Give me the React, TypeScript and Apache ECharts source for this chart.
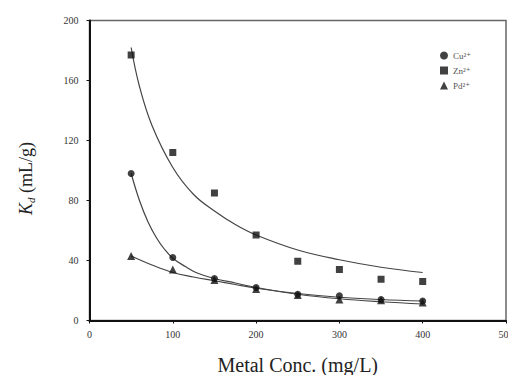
import React, { useEffect, useRef } from "react";
import * as echarts from "echarts";

const concentrations = [50, 100, 150, 200, 250, 300, 350, 400];
const cuValues = [98, 42, 28, 22, 17.5, 16.5, 14, 13];
const znValues = [177, 112, 85, 57, 39.5, 34, 27.5, 26];
const pdValues = [43, 34, 27, 21, 17, 14, 13.5, 12];

const cuFitX = [50, 60, 70, 80, 90, 100, 115, 130, 150, 175, 200, 250, 300, 350, 400];
const cuFit = [98, 80, 66, 55.5, 47.5, 41.5, 36, 31.5, 28, 25, 22, 17.5, 14.5, 12.5, 11];
const znFitX = [50, 60, 75, 100, 125, 150, 175, 200, 250, 300, 350, 400];
const znFit = [182, 156, 130, 102, 84, 73, 64, 57, 47, 40.5, 35.5, 32];
const pdFitX = [50, 75, 100, 125, 150, 175, 200, 250, 300, 350, 400];
const pdFit = [43, 37, 32, 29, 26.5, 24, 21.5, 18, 15.5, 14, 13];

const xTicks = [0, 100, 200, 300, 400, 500];
const yTicks = [0, 40, 80, 120, 160, 200];
const seriesNames = ["Cu²⁺", "Zn²⁺", "Pd²⁺"];

const serif = "'Liberation Serif', 'DejaVu Serif', serif";

export default function App() {
  const ref = useRef<HTMLDivElement>(null);
  useEffect(() => {
    if (!ref.current) return;
    const chart = echarts.init(ref.current, null, { renderer: "svg" });
    const pair = (xs: number[], ys: number[]) => xs.map((x, i) => [x, ys[i]]);
    const scatterStyle = (name: string, symbol: string, size: number, ys: number[]) => ({
      name,
      type: "scatter",
      symbol,
      symbolSize: size,
      itemStyle: { color: "#111" },
      data: pair(concentrations, ys),
      z: 5,
    });
    const fitStyle = (xs: number[], ys: number[]) => ({
      type: "line",
      smooth: 0.4,
      showSymbol: false,
      silent: true,
      lineStyle: { color: "#444", width: 1.2 },
      data: pair(xs, ys),
      z: 3,
    });
    chart.setOption({
      animation: false,
      backgroundColor: "#fff",
      grid: {
        left: 89.5,
        right: 2,
        top: 20.5,
        bottom: 54.5,
        show: true,
        borderColor: "#666",
        borderWidth: 1.5,
        containLabel: false,
        outerBoundsMode: "none",
      },
      legend: {
        data: seriesNames,
        orient: "vertical",
        left: 435,
        top: 46,
        itemWidth: 8,
        itemHeight: 8,
        itemGap: 6,
        textStyle: { fontFamily: serif, fontSize: 9, color: "#555" },
      },
      xAxis: {
        type: "value",
        min: xTicks[0],
        max: xTicks[xTicks.length - 1],
        interval: 100,
        name: "Metal Conc. (mg/L)",
        nameLocation: "middle",
        nameGap: 34,
        nameTextStyle: { fontFamily: serif, fontSize: 20, color: "#222" },
        axisLine: { lineStyle: { color: "#111", width: 2 } },
        axisTick: { show: true, length: 3, lineStyle: { color: "#111" } },
        axisLabel: { fontFamily: serif, fontSize: 10, color: "#333", margin: 9 },
        splitLine: { show: false },
      },
      yAxis: {
        type: "value",
        min: yTicks[0],
        max: yTicks[yTicks.length - 1],
        interval: 40,
        name: "{k|K}{d|d}{u| (mL/g)}",
        nameLocation: "middle",
        nameRotate: 90,
        nameGap: 53,
        nameTextStyle: {
          fontFamily: serif,
          color: "#222",
          padding: [0, 16, 0, 0],
          rich: {
            k: { fontFamily: serif, fontSize: 18, fontStyle: "italic", color: "#222", lineHeight: 22 },
            d: { fontFamily: serif, fontSize: 11, fontStyle: "italic", color: "#222", verticalAlign: "bottom", lineHeight: 22, padding: [9, 0, 0, 0] },
            u: { fontFamily: serif, fontSize: 18, color: "#222", lineHeight: 22 },
          },
        },
        axisLine: { show: true, lineStyle: { color: "#111", width: 2 } },
        axisTick: { show: true, length: 3, lineStyle: { color: "#111" } },
        axisLabel: { fontFamily: serif, fontSize: 10, color: "#333", margin: 11 },
        splitLine: { show: false },
      },
      series: [
        scatterStyle(seriesNames[0], "circle", 7, cuValues),
        scatterStyle(seriesNames[1], "rect", 7, znValues),
        scatterStyle(seriesNames[2], "triangle", 8, pdValues),
        fitStyle(cuFitX, cuFit),
        fitStyle(znFitX, znFit),
        fitStyle(pdFitX, pdFit),
      ],
    });
    return () => chart.dispose();
  }, []);
  return (
    <div style={{ position: "absolute", left: 0, top: 0, width: 508, height: 375, overflow: "hidden" }}>
      <div ref={ref} style={{ width: 508, height: 375 }} />
    </div>
  );
}
